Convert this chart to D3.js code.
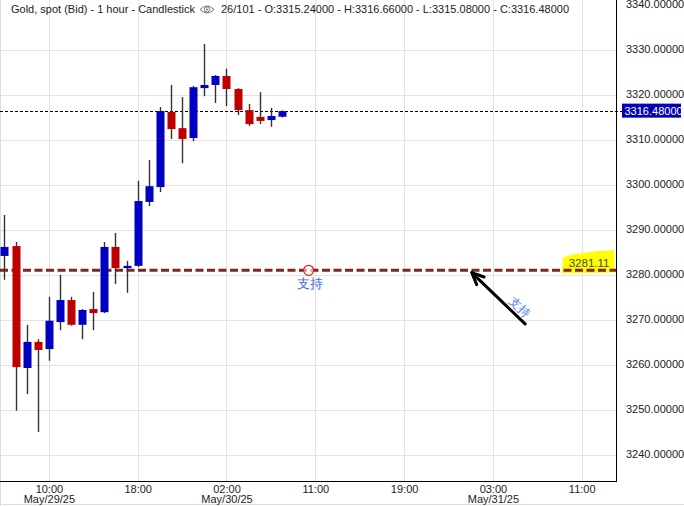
<!DOCTYPE html>
<html>
<head>
<meta charset="utf-8">
<script src="https://cdn.jsdelivr.net/npm/d3@7"></script>
<style>
  html, body { margin: 0; padding: 0; background: #ffffff; }
  svg { display: block; }
  text { font-family: Arial, "Liberation Sans", sans-serif; }
</style>
</head>
<body>
<svg id="chart" width="684" height="506"></svg>
<script>
// ---------- DATA ----------
const title = "Gold, spot (Bid) - 1 hour - Candlestick";
const infoText = "26/101 - O:3315.24000 - H:3316.66000 - L:3315.08000 - C:3316.48000";

const opens  = [3284.3, 3286.5, 3259.4, 3265.2, 3263.6, 3269.6, 3274.5, 3269.0, 3272.5, 3271.8, 3286.3, 3281.6, 3282.1, 3296.3, 3299.6, 3316.3, 3312.7, 3310.5, 3321.6, 3322.3, 3324.3, 3321.4, 3316.7, 3315.2, 3314.5, 3315.24];
const highs  = [3293.4, 3287.4, 3269.0, 3265.8, 3275.2, 3280.1, 3275.2, 3272.5, 3276.3, 3287.4, 3289.4, 3283.2, 3301.0, 3305.6, 3317.4, 3322.3, 3319.6, 3322.1, 3331.4, 3324.5, 3325.9, 3321.6, 3318.1, 3320.7, 3317.2, 3316.66];
const lows   = [3279.0, 3249.9, 3253.6, 3245.2, 3261.0, 3267.8, 3268.8, 3265.8, 3267.8, 3271.6, 3278.1, 3276.1, 3281.8, 3295.4, 3298.5, 3310.3, 3304.9, 3309.8, 3319.8, 3318.3, 3317.6, 3315.6, 3313.2, 3313.6, 3313.0, 3315.08];
const closes = [3286.3, 3259.6, 3265.2, 3263.4, 3269.9, 3274.5, 3269.0, 3272.3, 3271.6, 3286.3, 3281.6, 3282.1, 3296.5, 3299.8, 3316.5, 3312.5, 3310.3, 3321.8, 3322.3, 3324.3, 3321.4, 3316.7, 3313.6, 3314.3, 3315.4, 3316.48];

const xTickSlots  = [4, 12, 20, 28, 36, 44, 52];
const xTickTimes  = ["10:00", "18:00", "02:00", "11:00", "19:00", "03:00", "11:00"];
const xTickDates  = ["May/29/25", "", "May/30/25", "", "", "May/31/25", ""];
const yTicks = [3240, 3250, 3260, 3270, 3280, 3290, 3300, 3310, 3320, 3330, 3340];

const lastPrice = 3316.48;
const supportLevel = 3281.11;
const supportLabel = "3281.11";
const noteText = "支持";
const markerSlot = 27.4;     // slot position of the small circle marker
const highlightSlot = 50.2;  // left edge of the yellow highlight (slot units)
const arrowFrom = [46.9, 3269.2];  // [slot, price]
const arrowTo   = [42.1, 3280.6];
const arrowNoteAt = [46.4, 3273.0];

// ---------- LAYOUT ----------
const W = 684, H = 506;
const plotRight = 616, plotBottom = 481;
const FS = 11;

const svg = d3.select("#chart");

const x = d3.scaleLinear().domain([-0.405, 55.09]).range([0, plotRight]);
const y = d3.scaleLinear().domain([3240, 3340]).range([455.3, 5.3]);

const bull = "#0000c0", bear = "#c00000";

// gridlines
const grid = svg.append("g");
grid.selectAll("line.h").data(yTicks.filter(v => v < 3340)).enter().append("line")
  .attr("x1", 0).attr("x2", plotRight)
  .attr("y1", d => Math.round(y(d)) + 0.5).attr("y2", d => Math.round(y(d)) + 0.5)
  .attr("stroke", "#e3e3e3").attr("stroke-width", 1);
grid.selectAll("line.v").data(xTickSlots).enter().append("line")
  .attr("x1", d => Math.round(x(d)) + 0.5).attr("x2", d => Math.round(x(d)) + 0.5)
  .attr("y1", 0).attr("y2", plotBottom)
  .attr("stroke", "#e3e3e3").attr("stroke-width", 1);

// outer light borders
svg.append("line").attr("x1", 0.5).attr("x2", 0.5).attr("y1", 0).attr("y2", H)
  .attr("stroke", "#dcdcdc");
svg.append("line").attr("x1", 0).attr("x2", W).attr("y1", H - 1.5).attr("y2", H - 1.5)
  .attr("stroke", "#dcdcdc");

// yellow highlight (under the support line)
const hx0 = x(highlightSlot), hx1 = plotRight - 2;
const hy = y(supportLevel);
svg.append("path")
  .attr("d", `M${hx0},${hy + 3} L${hx0 + 1},${hy - 12} Q${hx0 + 6},${hy - 16} ${hx0 + 20},${hy - 17} Q${hx0 + 36},${hy - 20} ${hx1},${hy - 20} L${hx1 + 1},${hy + 2} Q${hx0 + 30},${hy + 3} ${hx0},${hy + 3} Z`)
  .attr("fill", "#ffff00");
svg.append("text").attr("x", hx0 + 7).attr("y", hy - 3.5)
  .attr("font-size", FS + 0.5).attr("fill", "#4a4a30").text(supportLabel);

// support line
svg.append("line")
  .attr("x1", 0).attr("x2", plotRight)
  .attr("y1", y(supportLevel)).attr("y2", y(supportLevel))
  .attr("stroke", "#701515").attr("stroke-width", 3).attr("stroke-opacity", 0.92)
  .attr("stroke-dasharray", "8,3.5");

// current price line
svg.append("line")
  .attr("x1", 0).attr("x2", 622)
  .attr("y1", Math.round(y(lastPrice)) + 0.5).attr("y2", Math.round(y(lastPrice)) + 0.5)
  .attr("stroke", "#000").attr("stroke-width", 1).attr("stroke-dasharray", "3,2");

// candles
const idx = d3.range(opens.length);
const candles = svg.append("g");
candles.selectAll("line.wick").data(idx).enter().append("line")
  .attr("x1", i => Math.round(x(i)) + 0.5).attr("x2", i => Math.round(x(i)) + 0.5)
  .attr("y1", i => y(highs[i])).attr("y2", i => y(lows[i]))
  .attr("stroke", "#2e3333").attr("stroke-width", 1.4);
candles.selectAll("rect.body").data(idx).enter().append("rect")
  .attr("x", i => Math.round(x(i)) - 3.5)
  .attr("width", 8)
  .attr("y", i => y(Math.max(opens[i], closes[i])))
  .attr("height", i => Math.max(2, Math.abs(y(opens[i]) - y(closes[i]))))
  .attr("fill", i => closes[i] >= opens[i] ? bull : bear);

// marker circle and note
const my = y(supportLevel);
svg.append("circle").attr("cx", x(markerSlot)).attr("cy", my).attr("r", 5)
  .attr("fill", "#ffffff").attr("fill-opacity", 0.6).attr("stroke", "#e02020").attr("stroke-width", 1.2);
svg.append("text").attr("x", x(markerSlot) + 1).attr("y", my + 18)
  .attr("text-anchor", "middle").attr("font-size", 13).attr("fill", "#3a6ae8")
  .attr("font-family", "'Noto Sans CJK SC', sans-serif").text(noteText);

// arrow
const ax0 = x(arrowFrom[0]), ay0 = y(arrowFrom[1]);
const ax1 = x(arrowTo[0]), ay1 = y(arrowTo[1]);
svg.append("line").attr("x1", ax0).attr("y1", ay0).attr("x2", ax1 + 2).attr("y2", ay1 + 2)
  .attr("stroke", "#000").attr("stroke-width", 3).attr("stroke-linecap", "round");
const ang = Math.atan2(ay1 - ay0, ax1 - ax0);
const headLen = 13, spread = 0.42;
[-spread, spread].forEach(s => {
  svg.append("line")
    .attr("x1", ax1).attr("y1", ay1)
    .attr("x2", ax1 - headLen * Math.cos(ang + s)).attr("y2", ay1 - headLen * Math.sin(ang + s))
    .attr("stroke", "#000").attr("stroke-width", 3).attr("stroke-linecap", "round");
});
const nx = x(arrowNoteAt[0]), ny = y(arrowNoteAt[1]);
svg.append("text")
  .attr("transform", `translate(${nx},${ny}) rotate(${ang * 180 / Math.PI + 180})`)
  .attr("text-anchor", "middle").attr("dy", "0.35em")
  .attr("font-size", 12).attr("fill", "#4a7ef0")
  .attr("font-family", "'Noto Sans CJK SC', sans-serif").text(noteText);

// axes lines
svg.append("line").attr("x1", plotRight + 0.5).attr("x2", plotRight + 0.5).attr("y1", 0).attr("y2", plotBottom)
  .attr("stroke", "#000").attr("stroke-width", 1);
svg.append("line").attr("x1", 0).attr("x2", plotRight + 1).attr("y1", plotBottom + 0.5).attr("y2", plotBottom + 0.5)
  .attr("stroke", "#000").attr("stroke-width", 1);

// y labels
const yAxis = d3.axisRight(y).tickValues(yTicks).tickSize(0).tickPadding(0)
  .tickFormat(d => d.toFixed(5));
const yg = svg.append("g").attr("transform", `translate(626,-1)`).call(yAxis);
yg.select(".domain").remove();
yg.selectAll("text").attr("font-size", FS).attr("fill", "#222")
  .attr("font-family", "Arial, 'Liberation Sans', sans-serif");

// last price label
const ly = y(lastPrice);
svg.append("rect").attr("x", 622).attr("y", ly - 7.5).attr("width", 59).attr("height", 14)
  .attr("fill", "#0000b4");
svg.append("text").attr("x", 624.5).attr("y", ly + 4)
  .attr("font-size", FS).attr("fill", "#fff").text(lastPrice.toFixed(5));

// x labels
const xAxis = d3.axisBottom(x).tickValues(xTickSlots).tickSize(0).tickPadding(0)
  .tickFormat((d, i) => xTickTimes[i]);
const xg = svg.append("g").attr("transform", `translate(0,${plotBottom})`).call(xAxis);
xg.select(".domain").remove();
xg.selectAll("text").attr("font-size", FS).attr("fill", "#222")
  .attr("font-family", "Arial, 'Liberation Sans', sans-serif")
  .attr("dy", null).attr("y", 12);
xg.selectAll(".tick").each(function(d, i) {
  if (xTickDates[i]) {
    d3.select(this).append("text").attr("y", 21.5).attr("text-anchor", "middle")
      .attr("font-size", FS).attr("fill", "#222")
      .attr("font-family", "Arial, 'Liberation Sans', sans-serif")
      .text(xTickDates[i]);
  }
});

// header
const hdr = svg.append("g");
hdr.append("text").attr("x", 11).attr("y", 13).attr("font-size", FS).attr("fill", "#222").text(title);
const eyeX = 207, eyeY = 9.5;
hdr.append("path")
  .attr("d", `M${eyeX - 7},${eyeY} Q${eyeX},${eyeY - 7} ${eyeX + 7},${eyeY} Q${eyeX},${eyeY + 7} ${eyeX - 7},${eyeY} Z`)
  .attr("fill", "none").attr("stroke", "#777").attr("stroke-width", 1);
hdr.append("circle").attr("cx", eyeX).attr("cy", eyeY).attr("r", 2.6)
  .attr("fill", "none").attr("stroke", "#777").attr("stroke-width", 1);
hdr.append("circle").attr("cx", eyeX).attr("cy", eyeY).attr("r", 1)
  .attr("fill", "#777");
hdr.append("text").attr("x", 221).attr("y", 13).attr("font-size", FS).attr("fill", "#222").text(infoText);
</script>
</body>
</html>
